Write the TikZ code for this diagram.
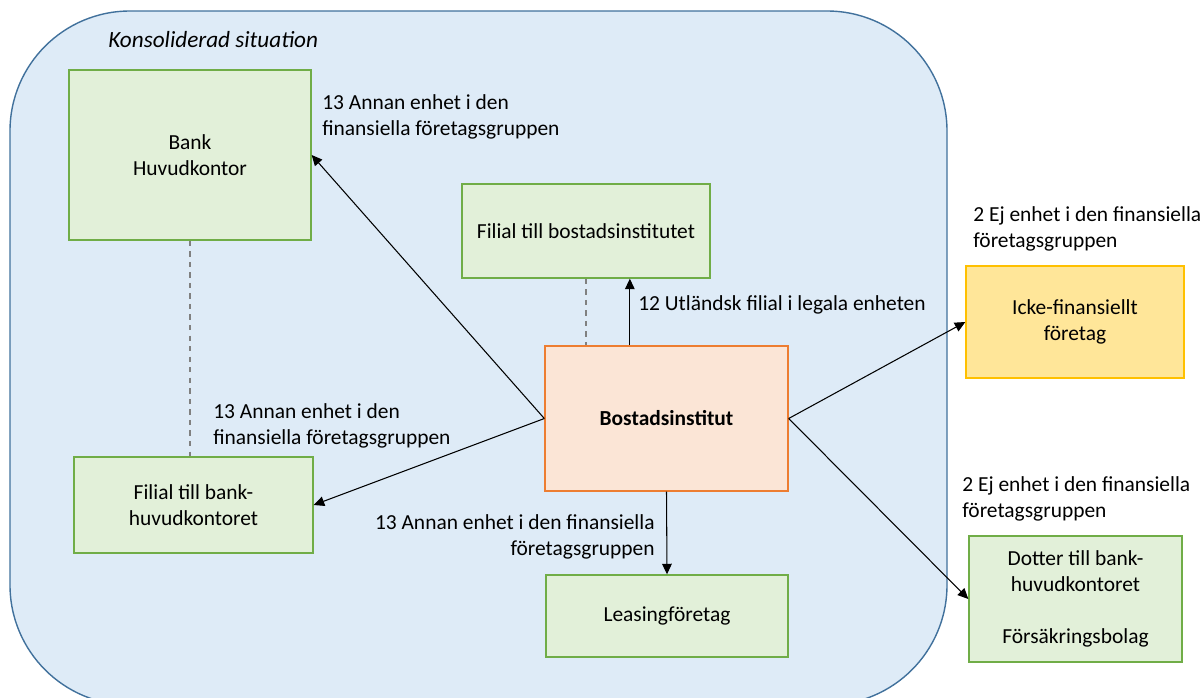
\documentclass[tikz,border=0pt]{standalone}
\usepackage{fontspec}
\setmainfont{Carlito}
\usepackage{tikz}
\usetikzlibrary{arrows.meta,calc}
\definecolor{konsfill}{HTML}{DEEBF7}
\definecolor{konsline}{HTML}{41719C}
\definecolor{grnfill}{HTML}{E2F0D9}
\definecolor{grnline}{HTML}{70AD47}
\definecolor{orgfill}{HTML}{FBE5D6}
\definecolor{orgline}{HTML}{ED7D31}
\definecolor{ylwfill}{HTML}{FFE699}
\definecolor{ylwline}{HTML}{FFC000}

\begin{document}
\begin{tikzpicture}[x=0.02cm,y=-0.02cm,font=\fontsize{12.2}{14.74}\selectfont,
		box/.style={draw=grnline,fill=grnfill,line width=0.8pt,align=center,inner sep=0pt},
		lbl/.style={anchor=north west,align=left,inner sep=0pt},
		arr/.style={-{Triangle[length=6pt,width=5.5pt]},line width=0.6pt},
		link/.style={dashed,gray,line width=0.6pt}]
		\path[use as bounding box,clip] (0,0) rectangle (1203,697);
		\draw[konsline,fill=konsfill,line width=0.8pt,rounded corners=2.4cm] (10,11) rectangle (947,705);
		\node[lbl,font=\fontsize{13.2}{16}\selectfont\itshape] (kons) at (108,31) {Konsoliderad situation};
		% enheter
		\node[box,minimum width=4.84cm,minimum height=3.4cm] (bank) at (190,155) {Bank\\Huvudkontor};
		\node[box,minimum width=4.96cm,minimum height=1.88cm] (filbost) at (586,231) {Filial till bostadsinstitutet};
		\node[box,draw=orgline,fill=orgfill,minimum width=4.86cm,minimum height=2.9cm] (bost) at (666.5,418.5) {\bfseries Bostadsinstitut};
		\node[box,minimum width=4.78cm,minimum height=1.92cm] (filbank) at (193.5,505) {Filial till bank-\\huvudkontoret};
		\node[box,minimum width=4.84cm,minimum height=1.64cm] (leasing) at (667,616) {Leasingföretag};
		\node[box,draw=ylwline,fill=ylwfill,minimum width=4.36cm,minimum height=2.24cm] (icke) at (1075,322) {Icke-finansiellt\\företag};
		\node[box,minimum width=4.26cm,minimum height=2.52cm] (dotter) at (1075.5,599) {Dotter till bank-\\huvudkontoret\\ \\Försäkringsbolag};
		% etiketter
		\node[lbl] (lbank) at (322,94) {13 Annan enhet i den\\finansiella företagsgruppen};
		\node[lbl] (lfilbost) at (638,295) {12 Utländsk filial i legala enheten};
		\node[lbl] (licke) at (973,206) {2 Ej enhet i den finansiella\\företagsgruppen};
		\node[lbl] (lfilbank) at (213,403) {13 Annan enhet i den\\finansiella företagsgruppen};
		\node[lbl,anchor=north east,align=right] (lleasing) at (655,514) {13 Annan enhet i den finansiella\\företagsgruppen};
		\node[lbl] (ldotter) at (962,476) {2 Ej enhet i den finansiella\\företagsgruppen};
		% pilar
		\coordinate (bostup) at ($(bost.north west)!0.35!(bost.north east)$);
		\draw[link] (bank.south) -- (bank.south |- filbank.north);
		\draw[link] (filbost.south) -- (filbost.south |- bost.north);
		\draw[arr] (bost.west) -- (bank.east);
		\draw[arr] (bost.west) -- (filbank.east);
		\draw[arr] (bostup) -- (bostup |- filbost.south);
		\draw[arr] (bost.south) -- (leasing.north);
		\draw[arr] (bost.east) -- (icke.west);
		\draw[arr] (bost.east) -- (dotter.west);
	\end{tikzpicture}
\end{document}
